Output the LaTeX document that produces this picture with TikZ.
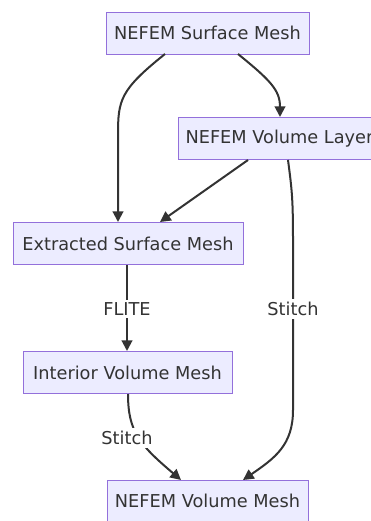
\documentclass[tikz,border=0pt]{standalone}
\usepackage{fontspec}
\setmainfont{DejaVu Sans}
\usetikzlibrary{arrows.meta}
\definecolor{boxfill}{HTML}{ECECFF}
\definecolor{boxline}{HTML}{9370DB}
\definecolor{edgecol}{HTML}{333333}
\begin{document}
\begin{tikzpicture}[x=0.75pt,y=-0.75pt,
  box/.style={draw=boxline,fill=boxfill,line width=0.75pt,minimum height=31.5pt,
    inner sep=0pt,text=edgecol,font=\fontsize{13.3}{16}\selectfont},
  conn/.style={draw=edgecol,line width=1.5pt,-{Triangle[length=8pt,width=8pt]}},
  lbl/.style={fill=white,text=edgecol,inner sep=2pt,font=\fontsize{13.3}{16}\selectfont}]
\useasboundingbox (0,0) rectangle (371,521);
\clip (0,0) rectangle (371,521);
\node[box,minimum width=152.25pt] (n1) at (207.5,33) {NEFEM Surface Mesh};
\node[box,minimum width=152.25pt] (n2) at (279.5,138.5) {NEFEM Volume Layer};
\node[box,minimum width=172.5pt] (n3) at (128,243.5) {Extracted Surface Mesh};
\node[box,minimum width=156.75pt] (n4) at (127.5,372.5) {Interior Volume Mesh};
\node[box,minimum width=150.75pt] (n5) at (207.5,501) {NEFEM Volume Mesh};
\coordinate (a1) at (165,54);
\coordinate (a2) at (118,222);
\draw[conn] (a1) .. controls (120,90) and (118,100) .. (118,135) -- (a2);
\coordinate (b1) at (238,54);
\coordinate (b2) at (280,117);
\draw[conn] (b1) .. controls (270,80) and (280,90) .. (b2);
\coordinate (c1) at (248,160);
\coordinate (c2) at (160,222);
\draw[conn] (c1) -- (c2);
\coordinate (d1) at (288,160);
\coordinate (d2) at (243,480);
\draw[conn] (d1) .. controls (292,190) and (293,200) .. (293,240) -- (293,410)
  .. controls (293,445) and (275,458) .. (d2);
\node[lbl] (sd) at (293,309) {Stitch};
\coordinate (e1) at (127,265);
\coordinate (e2) at (127,351);
\draw[conn] (e1) -- (e2);
\node[lbl] (fl) at (127,309) {FLITE};
\coordinate (f1) at (128,394);
\coordinate (f2) at (181,480);
\draw[conn] (f1) .. controls (128,432) and (140,445) .. (f2);
\node[lbl] (sf) at (127,438) {Stitch};
\end{tikzpicture}
\end{document}
